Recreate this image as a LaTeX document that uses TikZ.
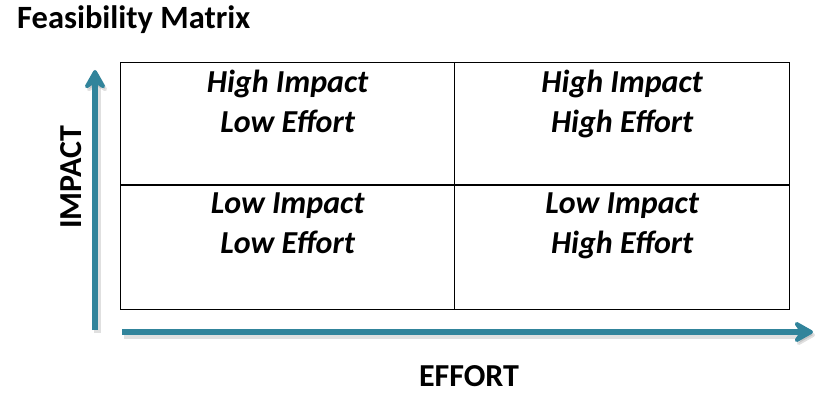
\documentclass[tikz,border=0pt]{standalone}
\usepackage{fontspec}
\setmainfont{Carlito}
\usetikzlibrary{arrows.meta,calc}
\definecolor{axisteal}{HTML}{31849B}
\tikzset{
  cellbox/.style={draw=black,line width=1.2pt,minimum width=334pt,minimum height=123pt,inner sep=0pt,anchor=north west},
  celltext/.style={font=\fontsize{32}{40}\selectfont\bfseries\itshape,align=center,anchor=base},
  axisarrow/.style={draw=axisteal,line width=6pt,-{Stealth[length=24pt,width=27pt,inset=9pt,round]}},
  axisshadow/.style={draw=black,opacity=0.12,line width=7pt,-{Stealth[length=24pt,width=27pt,inset=9pt,round]}},
  axislabel/.style={font=\fontsize{32}{36}\selectfont\bfseries},
}
\begin{document}
\begin{tikzpicture}[x=1pt,y=-1pt]
\useasboundingbox (0,0) rectangle (834,406);
% title
\node[anchor=base west,inner sep=0pt,font=\fontsize{32.5}{36}\selectfont\bfseries] (title) at (17,29) {Feasibility Matrix};
% cells
\node[cellbox] (c11) at (120,62) {};
\node[cellbox,minimum width=335pt] (c12) at (454,62) {};
\node[cellbox,minimum height=125pt] (c21) at (120,184) {};
\node[cellbox,minimum width=335pt,minimum height=125pt] (c22) at (454,184) {};
\node[celltext] (t11) at ($(c11.north)+(0,71)$) {High Impact\\Low Effort};
\node[celltext] (t12) at ($(c12.north)+(0,71)$) {High Impact\\High Effort};
\node[celltext] (t21) at ($(c21.north)+(0,69)$) {Low Impact\\Low Effort};
\node[celltext] (t22) at ($(c22.north)+(0,69)$) {Low Impact\\High Effort};
% axes
\coordinate (vs) at (95,330);
\coordinate (ve) at (95,70);
\coordinate (hs) at (122,332);
\coordinate (he) at (813,332);
\draw[axisshadow] ($(vs)+(2,3)$) -- ($(ve)+(2,3)$);
\draw[axisshadow] ($(hs)+(2,3)$) -- ($(he)+(2,3)$);
\draw[axisarrow] (vs) -- (ve);
\draw[axisarrow] (hs) -- (he);
% axis labels
\node[axislabel,rotate=90] (impact) at (71,177) {IMPACT};
\node[axislabel] (effort) at (469,376) {EFFORT};
\end{tikzpicture}
\end{document}
